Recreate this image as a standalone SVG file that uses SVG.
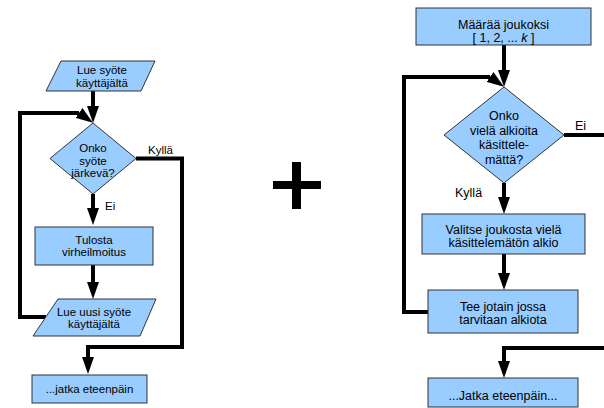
<svg xmlns="http://www.w3.org/2000/svg" width="604" height="408" viewBox="0 0 604 408">
  <style>
    .shape { fill: #99ccff; stroke: #333333; stroke-width: 1; }
    .conn { fill: none; stroke: #000000; stroke-width: 4; stroke-linejoin: miter; }
    text { font-family: "Liberation Sans", Arial, sans-serif; fill: #000000; text-anchor: middle; }
    .s { font-size: 11.5px; }
    .l { font-size: 12.5px; }
    .lab { text-anchor: start; }
  </style>
  <defs>
    <marker id="arrow" markerUnits="userSpaceOnUse" markerWidth="18" markerHeight="12" refX="0" refY="6" orient="auto">
      <path d="M0,0 L17,6 L0,12 z" fill="#000000"/>
    </marker>
    <marker id="arrowSlant" markerUnits="userSpaceOnUse" markerWidth="18" markerHeight="12" refX="0" refY="6" orient="35">
      <path d="M0,0 L17,6 L0,12 z" fill="#000000"/>
    </marker>
  </defs>

  <!-- connectors -->
  <g id="connectors">
    <!-- left flow -->
    <path class="conn" d="M93,91 V106" marker-end="url(#arrow)"/>
    <path class="conn" d="M93,194 V208" marker-end="url(#arrow)"/>
    <path class="conn" d="M93,265 V282" marker-end="url(#arrow)"/>
    <path class="conn" d="M136,158.5 H182 V347 H88 V357" marker-end="url(#arrow)"/>
    <path class="conn" d="M46,317 H20 V113 H79" marker-end="url(#arrowSlant)"/>
    <!-- right flow -->
    <path class="conn" d="M504,45 V70" marker-end="url(#arrow)"/>
    <path class="conn" d="M428,312 H404 V77 H490" marker-end="url(#arrowSlant)"/>
    <path class="conn" d="M564,135 H604"/>
    <path class="conn" d="M504,183 V197" marker-end="url(#arrow)"/>
    <path class="conn" d="M504,254 V273" marker-end="url(#arrow)"/>
    <path class="conn" d="M604,348 H504 V361" marker-end="url(#arrow)"/>
  </g>

  <!-- edge labels -->
  <g id="labels">
    <text class="s lab" x="148" y="154">Kyllä</text>
    <text class="s lab" x="105" y="210">Ei</text>
    <text class="l lab" x="575" y="130">Ei</text>
    <text class="l lab" x="455" y="197">Kyllä</text>
  </g>

  <!-- left flowchart -->
  <g id="input1">
    <polygon class="shape" points="61,61 155,61 141,91 46,91"/>
    <text class="s" x="102" y="74">Lue syöte</text>
    <text class="s" x="102" y="86.5">käyttäjältä</text>
  </g>
  <g id="check1">
    <polygon class="shape" points="93,123 136,158.5 93,194 50,158.5"/>
    <text class="s" x="93" y="152">Onko</text>
    <text class="s" x="93" y="164.5">syöte</text>
    <text class="s" x="93" y="177">järkevä?</text>
  </g>
  <g id="error1">
    <rect class="shape" x="35" y="227" width="118" height="38"/>
    <text class="s" x="94" y="243.5">Tulosta</text>
    <text class="s" x="94" y="256">virheilmoitus</text>
  </g>
  <g id="input2">
    <polygon class="shape" points="58,299 156,299 140,336 33,336"/>
    <text class="s" x="94" y="315.5">Lue uusi syöte</text>
    <text class="s" x="94" y="328">käyttäjältä</text>
  </g>
  <g id="continue1">
    <rect class="shape" x="32" y="375" width="115" height="28"/>
    <text class="s" x="89.5" y="393">...jatka eteenpäin</text>
  </g>

  <!-- plus sign between the two charts -->
  <g id="plus">
    <rect x="292" y="162" width="9" height="47" fill="#000000"/>
    <rect x="273" y="181" width="48" height="8" fill="#000000"/>
  </g>

  <!-- right flowchart -->
  <g id="assign">
    <rect class="shape" x="416" y="8" width="175" height="37"/>
    <text class="l" x="503.5" y="29">Määrää joukoksi</text>
    <text class="l" x="503.5" y="42">[ 1, 2, ... <tspan font-style="italic">k</tspan> ]</text>
  </g>
  <g id="check2">
    <polygon class="shape" points="504,87 564,135 504,183 444,135"/>
    <text class="l" x="504" y="120">Onko</text>
    <text class="l" x="504" y="134.5">vielä alkioita</text>
    <text class="l" x="504" y="149">käsittele-</text>
    <text class="l" x="504" y="163.5">mättä?</text>
  </g>
  <g id="pick">
    <rect class="shape" x="422" y="214" width="163" height="40"/>
    <text class="l" x="503.5" y="234">Valitse joukosta vielä</text>
    <text class="l" x="503.5" y="247">käsittelemätön alkio</text>
  </g>
  <g id="process">
    <rect class="shape" x="428" y="290" width="150" height="43"/>
    <text class="l" x="503" y="311">Tee jotain jossa</text>
    <text class="l" x="503" y="324">tarvitaan alkiota</text>
  </g>
  <g id="continue2">
    <rect class="shape" x="428" y="378" width="150" height="29"/>
    <text class="l" x="503" y="400">...Jatka eteenpäin...</text>
  </g>
</svg>
